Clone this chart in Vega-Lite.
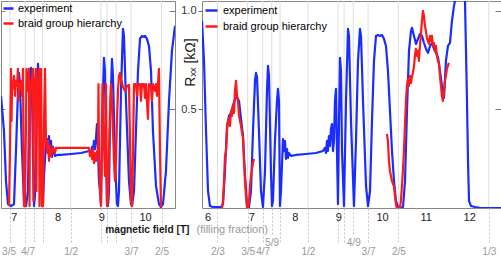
{
  "$schema": "https://vega.github.io/schema/vega-lite/v6.json",
  "padding": 0,
  "background": "white",
  "spacing": 27,
  "bounds": "flush",
  "config": {
    "font": "Liberation Sans",
    "view": {"stroke": "#888", "strokeWidth": 1}
  },
  "resolve": {"scale": {"color": "independent"}, "legend": {"color": "independent"}},
  "datasets": {
    "fracL": [
      {"B": 6.917, "nu": "3/5"}, {"B": 7.2625, "nu": "4/7"}, {"B": 7.47, "nu": "5/9"}, {"B": 7.66, "nu": "6/11"},
      {"B": 8.3, "nu": "1/2"}, {"B": 8.99, "nu": "6/13"}, {"B": 9.13, "nu": "5/11"}, {"B": 9.34, "nu": "4/9"},
      {"B": 9.68, "nu": "3/7"}, {"B": 10.375, "nu": "2/5"}
    ],
    "fracR": [
      {"B": 6.225, "nu": "2/3"}, {"B": 6.917, "nu": "3/5"}, {"B": 7.2625, "nu": "4/7"}, {"B": 7.47, "nu": "5/9"}, {"B": 7.66, "nu": "6/11"},
      {"B": 8.3, "nu": "1/2"}, {"B": 8.99, "nu": "6/13"}, {"B": 9.13, "nu": "5/11"}, {"B": 9.34, "nu": "4/9"},
      {"B": 9.68, "nu": "3/7"}, {"B": 10.375, "nu": "2/5"}, {"B": 12.45, "nu": "1/3"}
    ],
    "expL": [
      {"B":6.710,"R":0.569},{"B":6.778,"R":0.391},{"B":6.824,"R":0.137},{"B":6.870,"R":0.020},{"B":6.938,"R":0.010},
      {"B":7.007,"R":0.020},{"B":7.052,"R":0.289},{"B":7.098,"R":0.594},{"B":7.121,"R":0.685},{"B":7.144,"R":0.619},
      {"B":7.189,"R":0.289},{"B":7.235,"R":0.036},{"B":7.281,"R":0.010},{"B":7.326,"R":0.086},{"B":7.349,"R":0.442},
      {"B":7.395,"R":0.711},{"B":7.418,"R":0.594},{"B":7.441,"R":0.239},{"B":7.463,"R":0.010},{"B":7.486,"R":0.061},
      {"B":7.532,"R":0.543},{"B":7.555,"R":0.731},{"B":7.578,"R":0.594},{"B":7.623,"R":0.188},{"B":7.646,"R":0.010},
      {"B":7.669,"R":0.020},{"B":7.692,"R":0.162},{"B":7.715,"R":0.249},{"B":7.737,"R":0.315},{"B":7.760,"R":0.350},
      {"B":7.783,"R":0.279},{"B":7.806,"R":0.365},{"B":7.829,"R":0.264},{"B":7.852,"R":0.340},{"B":7.874,"R":0.259},
      {"B":7.897,"R":0.310},{"B":7.943,"R":0.264},{"B":7.989,"R":0.269},{"B":8.080,"R":0.269},{"B":8.308,"R":0.274},
      {"B":8.537,"R":0.279},{"B":8.719,"R":0.289},{"B":8.765,"R":0.279},{"B":8.788,"R":0.310},{"B":8.811,"R":0.289},
      {"B":8.833,"R":0.340},{"B":8.856,"R":0.299},{"B":8.879,"R":0.355},{"B":8.902,"R":0.426},{"B":8.925,"R":0.289},
      {"B":8.947,"R":0.137},{"B":8.970,"R":0.086},{"B":8.993,"R":0.020},{"B":9.016,"R":0.442},{"B":9.062,"R":0.761},
      {"B":9.084,"R":0.695},{"B":9.107,"R":0.289},{"B":9.130,"R":0.036},{"B":9.153,"R":0.010},{"B":9.176,"R":0.086},
      {"B":9.199,"R":0.442},{"B":9.244,"R":0.756},{"B":9.267,"R":0.670},{"B":9.313,"R":0.239},{"B":9.358,"R":0.020},
      {"B":9.381,"R":0.010},{"B":9.404,"R":0.086},{"B":9.450,"R":0.594},{"B":9.495,"R":0.909},{"B":9.518,"R":0.873},
      {"B":9.564,"R":0.543},{"B":9.632,"R":0.137},{"B":9.678,"R":0.020},{"B":9.701,"R":0.010},{"B":9.747,"R":0.086},
      {"B":9.792,"R":0.391},{"B":9.838,"R":0.695},{"B":9.884,"R":0.858},{"B":9.929,"R":0.873},{"B":9.975,"R":0.868},
      {"B":9.998,"R":0.873},{"B":10.043,"R":0.858},{"B":10.089,"R":0.822},{"B":10.135,"R":0.695},{"B":10.180,"R":0.391},
      {"B":10.249,"R":0.112},{"B":10.317,"R":0.020},{"B":10.363,"R":0.005},{"B":10.409,"R":0.020},{"B":10.477,"R":0.188},
      {"B":10.546,"R":0.543},{"B":10.614,"R":0.797},{"B":10.683,"R":0.924}
    ],
    "braidL": [
      {"B":6.893,"R":0.010},{"B":6.915,"R":0.289},{"B":6.938,"R":0.706},{"B":6.950,"R":0.442},{"B":6.961,"R":0.594},
      {"B":6.984,"R":0.629},{"B":7.007,"R":0.670},{"B":7.030,"R":0.569},{"B":7.052,"R":0.645},{"B":7.075,"R":0.619},
      {"B":7.098,"R":0.706},{"B":7.110,"R":0.543},{"B":7.121,"R":0.629},{"B":7.144,"R":0.604},{"B":7.167,"R":0.645},
      {"B":7.189,"R":0.569},{"B":7.212,"R":0.706},{"B":7.224,"R":0.239},{"B":7.235,"R":0.010},{"B":7.258,"R":0.010},
      {"B":7.281,"R":0.442},{"B":7.292,"R":0.706},{"B":7.304,"R":0.629},{"B":7.326,"R":0.594},{"B":7.349,"R":0.706},
      {"B":7.361,"R":0.010},{"B":7.372,"R":0.492},{"B":7.395,"R":0.629},{"B":7.418,"R":0.655},{"B":7.441,"R":0.706},
      {"B":7.452,"R":0.036},{"B":7.463,"R":0.594},{"B":7.486,"R":0.629},{"B":7.509,"R":0.706},{"B":7.520,"R":0.086},
      {"B":7.532,"R":0.645},{"B":7.555,"R":0.619},{"B":7.578,"R":0.706},{"B":7.589,"R":0.010},{"B":7.600,"R":0.543},
      {"B":7.623,"R":0.706},{"B":7.646,"R":0.010},{"B":7.669,"R":0.010},{"B":7.692,"R":0.442},{"B":7.715,"R":0.706},
      {"B":7.737,"R":0.340},{"B":7.760,"R":0.289},{"B":7.783,"R":0.340},{"B":7.806,"R":0.239},{"B":7.829,"R":0.315},
      {"B":7.852,"R":0.264},{"B":7.897,"R":0.305},{"B":7.943,"R":0.279},{"B":7.966,"R":0.305},{"B":8.011,"R":0.305},
      {"B":8.719,"R":0.305},{"B":8.742,"R":0.264},{"B":8.765,"R":0.289},{"B":8.788,"R":0.249},{"B":8.811,"R":0.299},
      {"B":8.833,"R":0.228},{"B":8.856,"R":0.279},{"B":8.879,"R":0.239},{"B":8.902,"R":0.289},{"B":8.925,"R":0.289},
      {"B":8.936,"R":0.629},{"B":8.947,"R":0.289},{"B":8.970,"R":0.102},{"B":8.993,"R":0.010},{"B":9.016,"R":0.289},
      {"B":9.027,"R":0.629},{"B":9.039,"R":0.442},{"B":9.062,"R":0.340},{"B":9.084,"R":0.162},{"B":9.107,"R":0.629},
      {"B":9.119,"R":0.289},{"B":9.130,"R":0.010},{"B":9.153,"R":0.036},{"B":9.176,"R":0.289},{"B":9.199,"R":0.492},
      {"B":9.221,"R":0.629},{"B":9.244,"R":0.543},{"B":9.267,"R":0.391},{"B":9.290,"R":0.239},{"B":9.313,"R":0.137},
      {"B":9.336,"R":0.239},{"B":9.358,"R":0.442},{"B":9.381,"R":0.594},{"B":9.404,"R":0.670},{"B":9.427,"R":0.685},
      {"B":9.450,"R":0.655},{"B":9.495,"R":0.614},{"B":9.541,"R":0.594},{"B":9.587,"R":0.619},{"B":9.632,"R":0.624},
      {"B":9.655,"R":0.340},{"B":9.678,"R":0.036},{"B":9.701,"R":0.010},{"B":9.724,"R":0.289},{"B":9.747,"R":0.629},
      {"B":9.792,"R":0.629},{"B":9.815,"R":0.569},{"B":9.838,"R":0.629},{"B":9.884,"R":0.629},{"B":9.906,"R":0.543},
      {"B":9.929,"R":0.629},{"B":9.975,"R":0.629},{"B":9.998,"R":0.558},{"B":10.021,"R":0.629},{"B":10.066,"R":0.452},
      {"B":10.089,"R":0.629},{"B":10.135,"R":0.619},{"B":10.158,"R":0.543},{"B":10.180,"R":0.629},{"B":10.226,"R":0.594},
      {"B":10.249,"R":0.629},{"B":10.272,"R":0.569},{"B":10.294,"R":0.629},{"B":10.317,"R":0.706},{"B":10.340,"R":0.289},
      {"B":10.363,"R":0.010},{"B":10.386,"R":0.010}
    ],
    "expR": [
      {"B":5.870,"R":0.949},{"B":5.916,"R":0.746},{"B":5.962,"R":0.391},{"B":6.008,"R":0.086},{"B":6.053,"R":0.010},
      {"B":6.122,"R":0.005},{"B":6.214,"R":0.005},{"B":6.306,"R":0.005},{"B":6.352,"R":0.020},{"B":6.398,"R":0.188},
      {"B":6.444,"R":0.416},{"B":6.489,"R":0.467},{"B":6.535,"R":0.482},{"B":6.581,"R":0.518},{"B":6.627,"R":0.553},
      {"B":6.673,"R":0.563},{"B":6.719,"R":0.543},{"B":6.765,"R":0.452},{"B":6.811,"R":0.365},{"B":6.857,"R":0.162},
      {"B":6.902,"R":0.020},{"B":6.948,"R":0.005},{"B":6.994,"R":0.086},{"B":7.040,"R":0.391},{"B":7.086,"R":0.645},
      {"B":7.109,"R":0.685},{"B":7.132,"R":0.665},{"B":7.177,"R":0.391},{"B":7.223,"R":0.086},{"B":7.269,"R":0.005},
      {"B":7.315,"R":0.188},{"B":7.361,"R":0.594},{"B":7.384,"R":0.721},{"B":7.407,"R":0.670},{"B":7.452,"R":0.188},
      {"B":7.475,"R":0.010},{"B":7.498,"R":0.036},{"B":7.544,"R":0.340},{"B":7.590,"R":0.543},{"B":7.613,"R":0.604},
      {"B":7.636,"R":0.543},{"B":7.659,"R":0.010},{"B":7.682,"R":0.086},{"B":7.728,"R":0.350},{"B":7.751,"R":0.289},
      {"B":7.774,"R":0.340},{"B":7.797,"R":0.249},{"B":7.820,"R":0.299},{"B":7.842,"R":0.254},{"B":7.865,"R":0.279},
      {"B":7.911,"R":0.264},{"B":8.026,"R":0.269},{"B":8.255,"R":0.274},{"B":8.485,"R":0.279},{"B":8.645,"R":0.289},
      {"B":8.691,"R":0.305},{"B":8.714,"R":0.279},{"B":8.737,"R":0.340},{"B":8.760,"R":0.289},{"B":8.783,"R":0.365},
      {"B":8.806,"R":0.315},{"B":8.829,"R":0.401},{"B":8.852,"R":0.426},{"B":8.875,"R":0.289},{"B":8.898,"R":0.340},
      {"B":8.921,"R":0.543},{"B":8.944,"R":0.604},{"B":8.967,"R":0.289},{"B":8.990,"R":0.020},{"B":9.013,"R":0.442},
      {"B":9.036,"R":0.761},{"B":9.059,"R":0.695},{"B":9.082,"R":0.289},{"B":9.128,"R":0.010},{"B":9.174,"R":0.543},
      {"B":9.220,"R":0.909},{"B":9.242,"R":0.873},{"B":9.288,"R":0.442},{"B":9.357,"R":0.010},{"B":9.403,"R":0.340},
      {"B":9.449,"R":0.746},{"B":9.495,"R":0.909},{"B":9.518,"R":0.873},{"B":9.564,"R":0.543},{"B":9.633,"R":0.112},
      {"B":9.679,"R":0.010},{"B":9.725,"R":0.086},{"B":9.770,"R":0.442},{"B":9.816,"R":0.746},{"B":9.862,"R":0.873},
      {"B":9.908,"R":0.878},{"B":9.954,"R":0.873},{"B":10.000,"R":0.878},{"B":10.045,"R":0.858},{"B":10.091,"R":0.822},
      {"B":10.137,"R":0.695},{"B":10.183,"R":0.492},{"B":10.229,"R":0.289},{"B":10.275,"R":0.137},{"B":10.321,"R":0.036},
      {"B":10.367,"R":0.005},{"B":10.436,"R":0.000},{"B":10.482,"R":0.005},{"B":10.528,"R":0.137},{"B":10.573,"R":0.492},
      {"B":10.619,"R":0.797},{"B":10.665,"R":0.898},{"B":10.688,"R":0.914},{"B":10.734,"R":0.873},{"B":10.780,"R":0.832},
      {"B":10.826,"R":0.858},{"B":10.871,"R":0.883},{"B":10.917,"R":0.873},{"B":10.963,"R":0.837},{"B":11.009,"R":0.807},
      {"B":11.055,"R":0.787},{"B":11.101,"R":0.822},{"B":11.146,"R":0.837},{"B":11.192,"R":0.807},{"B":11.238,"R":0.787},
      {"B":11.284,"R":0.766},{"B":11.330,"R":0.695},{"B":11.376,"R":0.619},{"B":11.422,"R":0.558},{"B":11.467,"R":0.746},
      {"B":11.513,"R":0.822},{"B":11.559,"R":0.837},{"B":11.605,"R":0.949},{"B":11.651,"R":1.025},{"B":11.697,"R":1.076},
      {"B":11.743,"R":1.150},{"B":11.858,"R":1.150},{"B":11.904,"R":1.051},{"B":11.950,"R":0.543},{"B":11.973,"R":0.239},
      {"B":11.996,"R":0.036},{"B":12.042,"R":0.010},{"B":12.133,"R":0.005},{"B":12.271,"R":0.000},{"B":12.730,"R":0.000}
    ],
    "braidR1": [
      {"B":6.329,"R":0.000},{"B":6.352,"R":0.036},{"B":6.375,"R":0.137},{"B":6.398,"R":0.264},{"B":6.421,"R":0.289},
      {"B":6.444,"R":0.391},{"B":6.467,"R":0.442},{"B":6.489,"R":0.457},{"B":6.512,"R":0.416},{"B":6.535,"R":0.492},
      {"B":6.558,"R":0.467},{"B":6.581,"R":0.523},{"B":6.604,"R":0.482},{"B":6.627,"R":0.594},{"B":6.650,"R":0.645},
      {"B":6.673,"R":0.569},{"B":6.696,"R":0.543},{"B":6.719,"R":0.467},{"B":6.742,"R":0.442},{"B":6.765,"R":0.416},
      {"B":6.788,"R":0.381},{"B":6.811,"R":0.355},{"B":6.834,"R":0.239},{"B":6.857,"R":0.137},{"B":6.879,"R":0.061},
      {"B":6.902,"R":0.000},{"B":6.925,"R":0.000},{"B":6.948,"R":0.036},{"B":6.971,"R":0.112},{"B":6.994,"R":0.162},
      {"B":7.017,"R":0.198},{"B":7.040,"R":0.228},{"B":7.063,"R":0.249}
    ],
    "braidR2": [
      {"B":10.113,"R":0.376},{"B":10.136,"R":0.340},{"B":10.159,"R":0.239},{"B":10.182,"R":0.188},{"B":10.205,"R":0.162},
      {"B":10.228,"R":0.137},{"B":10.251,"R":0.122},{"B":10.274,"R":0.112},{"B":10.297,"R":0.061},{"B":10.319,"R":0.020},
      {"B":10.342,"R":0.000},{"B":10.411,"R":0.000},{"B":10.434,"R":0.036},{"B":10.457,"R":0.112},{"B":10.480,"R":0.188},
      {"B":10.503,"R":0.289},{"B":10.526,"R":0.416},{"B":10.549,"R":0.543},{"B":10.572,"R":0.619},{"B":10.595,"R":0.655},
      {"B":10.618,"R":0.619},{"B":10.641,"R":0.670},{"B":10.663,"R":0.634},{"B":10.686,"R":0.665},{"B":10.709,"R":0.685},
      {"B":10.732,"R":0.716},{"B":10.755,"R":0.772},{"B":10.778,"R":0.807},{"B":10.801,"R":0.772},{"B":10.824,"R":0.797},
      {"B":10.847,"R":0.746},{"B":10.870,"R":0.822},{"B":10.893,"R":0.883},{"B":10.916,"R":0.949},{"B":10.939,"R":1.000},
      {"B":10.962,"R":0.975},{"B":10.985,"R":0.924},{"B":11.008,"R":0.898},{"B":11.031,"R":0.858},{"B":11.053,"R":0.848},
      {"B":11.076,"R":0.832},{"B":11.099,"R":0.873},{"B":11.122,"R":0.848},{"B":11.145,"R":0.873},{"B":11.168,"R":0.822},
      {"B":11.191,"R":0.837},{"B":11.214,"R":0.797},{"B":11.237,"R":0.822},{"B":11.260,"R":0.772},{"B":11.283,"R":0.746},
      {"B":11.306,"R":0.736},{"B":11.329,"R":0.670},{"B":11.352,"R":0.619},{"B":11.375,"R":0.569},{"B":11.397,"R":0.543},
      {"B":11.420,"R":0.584},{"B":11.443,"R":0.645},{"B":11.466,"R":0.670},{"B":11.489,"R":0.706},{"B":11.512,"R":0.721},
      {"B":11.535,"R":0.736}
    ]
  },
  "hconcat": [
    {
      "width": 174,
      "height": 207,
      "resolve": {"axis": {"x": "independent", "y": "independent"}},
      "layer": [
        {
          "data": {"name": "fracL"},
          "mark": {"type": "rule", "color": "#dedede", "strokeWidth": 1, "clip": true},
          "encoding": {
            "x": {"field": "B", "type": "quantitative",
              "scale": {"domain": [6.71, 10.683], "nice": false, "zero": false},
              "axis": {"orient": "bottom", "values": [6.917, 7.2625, 7.47, 7.66, 8.3, 8.99, 9.13, 9.34, 9.68, 10.375],
                "title": null, "grid": false, "domain": false, "ticks": true, "tickColor": "#c4c4c4", "tickDash": [2, 2], "tickWidth": 1,
                "tickSize": 36, "labelPadding": 2.5,
                "labelOffset": {"condition": [{"test": "datum.value==6.917", "value": -1.5}, {"test": "datum.value==7.2625", "value": 2.5}], "value": 0},
                "labelExpr": "datum.value==6.917?'3/5':datum.value==7.2625?'4/7':datum.value==8.3?'1/2':datum.value==9.68?'3/7':datum.value==10.375?'2/5':''",
                "labelColor": "#999", "labelFontSize": 10, "labelOverlap": false, "labelFlush": false, "labelBound": false}}
          }
        },
        {
          "data": {"name": "expL"},
          "mark": {"type": "line", "strokeWidth": 2.2, "strokeJoin": "round", "clip": true},
          "encoding": {
            "x": {"field": "B", "type": "quantitative",
              "axis": {"orient": "bottom", "values": [7, 8, 9, 10], "ticks": false, "grid": false, "domain": false,
                "labelPadding": 3, "labelFontSize": 11, "labelColor": "#222", "labelFlush": false,
                "title": "magnetic field [T]", "titleFontSize": 10.2, "titleFontWeight": "bold", "titleColor": "#1a1a1a",
                "titleX": 188, "titleY": 21.5, "titleAlign": "right", "titleBaseline": "middle"}},
            "y": {"field": "R", "type": "quantitative", "scale": {"domain": [0, 1.05], "nice": false, "zero": false},
              "axis": {"orient": "left", "values": [0.5, 1], "labels": false, "title": null, "grid": false, "domain": false,
                "tickSize": -4, "tickColor": "#888"}},
            "color": {"datum": "experiment", "type": "nominal",
              "scale": {"domain": ["experiment", "braid group hierarchy"], "range": ["#1a2cff", "#ff1a1a"]},
              "legend": {"orient": "top-left", "title": null, "offset": 1, "padding": 0, "symbolType": "stroke",
                "symbolStrokeWidth": 2.5, "symbolSize": 100, "labelFontSize": 11, "labelColor": "#000",
                "rowPadding": 3, "labelOffset": 3}}
          }
        },
        {
          "data": {"name": "braidL"},
          "mark": {"type": "line", "strokeWidth": 2.2, "strokeJoin": "round", "clip": true},
          "encoding": {
            "x": {"field": "B", "type": "quantitative", "axis": null},
            "y": {"field": "R", "type": "quantitative",
              "axis": {"orient": "right", "values": [0.5, 1], "labels": false, "title": null, "grid": false, "domain": false,
                "tickSize": -6, "tickColor": "#777"}},
            "color": {"datum": "braid group hierarchy", "type": "nominal"}
          }
        }
      ]
    },
    {
      "width": 299,
      "height": 207,
      "resolve": {"axis": {"x": "independent", "y": "independent"}},
      "layer": [
        {
          "data": {"name": "fracR"},
          "mark": {"type": "rule", "color": "#dedede", "strokeWidth": 1, "clip": true},
          "encoding": {
            "x": {"field": "B", "type": "quantitative",
              "scale": {"domain": [5.87, 12.73], "nice": false, "zero": false},
              "axis": {"orient": "bottom", "values": [6.225, 6.917, 7.2625, 7.47, 7.66, 8.3, 8.99, 9.13, 9.34, 9.68, 10.375, 12.45],
                "title": null, "grid": false, "domain": false, "ticks": true, "tickColor": "#c4c4c4", "tickDash": [2, 2], "tickWidth": 1,
                "tickSize": {"condition": {"test": "datum.value==7.47||datum.value==9.34", "value": 27}, "value": 36},
                "labelPadding": 2.5,
                "labelExpr": "datum.value==6.225?'2/3':datum.value==6.917?'3/5':datum.value==7.2625?'4/7':datum.value==7.47?'5/9':datum.value==8.3?'1/2':datum.value==9.34?'4/9':datum.value==9.68?'3/7':datum.value==10.375?'2/5':datum.value==12.45?'1/3':''",
                "labelColor": "#999", "labelFontSize": 10, "labelOverlap": false, "labelFlush": false, "labelBound": false}}
          }
        },
        {
          "data": {"name": "expR"},
          "mark": {"type": "line", "strokeWidth": 2.2, "strokeJoin": "round", "clip": true},
          "encoding": {
            "x": {"field": "B", "type": "quantitative",
              "axis": {"orient": "bottom", "values": [6, 7, 8, 9, 10, 11, 12], "ticks": false, "grid": false, "domain": false,
                "labelPadding": 3, "labelFontSize": 11, "labelColor": "#222", "labelFlush": false,
                "title": "(filling fraction)", "titleFontSize": 11, "titleFontWeight": "normal", "titleColor": "#999",
                "titleX": -6, "titleY": 21.5, "titleAlign": "left", "titleBaseline": "middle"}},
            "y": {"field": "R", "type": "quantitative", "scale": {"domain": [0, 1.05], "nice": false, "zero": false},
              "axis": {"orient": "left", "values": [0.5, 1], "format": ".1f", "grid": false, "domain": false,
                "tickSize": 4, "tickColor": "#666", "labelPadding": 2, "labelFontSize": 11, "labelColor": "#333",
                "title": "Rₓₓ [kΩ]", "titleFontSize": 14, "titleFontWeight": "normal", "titleColor": "#222",
                "titleX": -12, "titleY": 61, "titleAngle": 270, "titleBaseline": "middle", "titleAlign": "center"}},
            "color": {"datum": "experiment", "type": "nominal",
              "scale": {"domain": ["experiment", "braid group hierarchy"], "range": ["#1a2cff", "#ff1a1a"]},
              "legend": {"orient": "top-left", "title": null, "offset": 2, "padding": 0, "symbolType": "stroke",
                "symbolStrokeWidth": 2.5, "symbolSize": 144, "labelFontSize": 11, "labelColor": "#000",
                "rowPadding": 3, "labelOffset": 4}}
          }
        },
        {
          "data": {"name": "braidR1"},
          "mark": {"type": "line", "strokeWidth": 2.2, "strokeJoin": "round", "clip": true},
          "encoding": {
            "x": {"field": "B", "type": "quantitative", "axis": null},
            "y": {"field": "R", "type": "quantitative",
              "axis": {"orient": "right", "values": [0.5, 1], "labels": false, "title": null, "grid": false, "domain": false,
                "tickSize": -6, "tickColor": "#777"}},
            "color": {"datum": "braid group hierarchy", "type": "nominal"}
          }
        },
        {
          "data": {"name": "braidR2"},
          "mark": {"type": "line", "strokeWidth": 2.2, "strokeJoin": "round", "clip": true},
          "encoding": {
            "x": {"field": "B", "type": "quantitative", "axis": null},
            "y": {"field": "R", "type": "quantitative", "axis": null},
            "color": {"datum": "braid group hierarchy", "type": "nominal"}
          }
        }
      ]
    }
  ]
}
